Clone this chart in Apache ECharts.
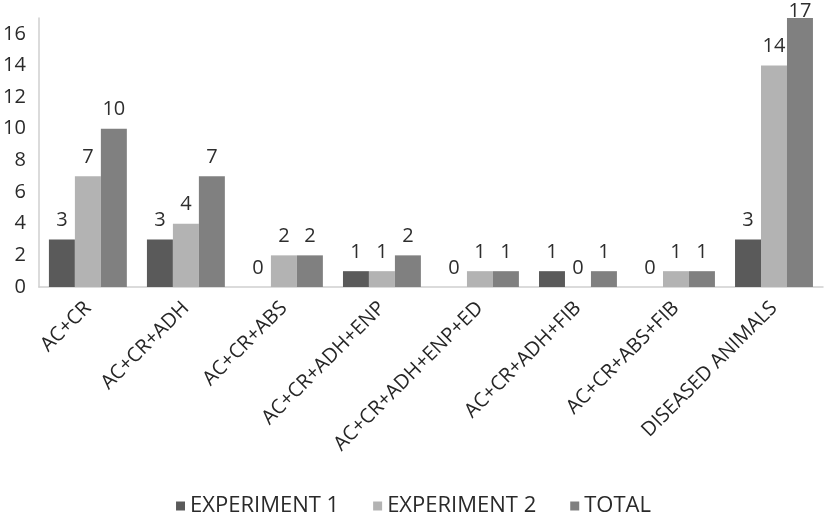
<!DOCTYPE html>
<html><head><meta charset="utf-8">
<script src="https://cdn.jsdelivr.net/npm/echarts@6/dist/echarts.min.js"></script>
<style>html,body{margin:0;padding:0;background:#fff}#c{width:827px;height:515px}</style>
</head><body><div id="c"></div>
<script>
const categories = ['AC+CR','AC+CR+ADH','AC+CR+ABS','AC+CR+ADH+ENP','AC+CR+ADH+ENP+ED','AC+CR+ADH+FIB','AC+CR+ABS+FIB','DISEASED ANIMALS'];
const experiment1 = [3,3,0,1,0,1,0,3];
const experiment2 = [7,4,2,1,1,0,1,14];
const total = [10,7,2,2,1,1,1,17];
const seriesNames = ['EXPERIMENT 1','EXPERIMENT 2','TOTAL'];
const colors = ['#5a5a5a','#b3b3b3','#808080'];
const font = 'Open Sans';
const yMax = 17;
const chart = echarts.init(document.getElementById('c'));
const mk = (name, data, color) => ({
  name, type: 'bar', barGap: '0%', barCategoryGap: '20.5%',
  data: data.map(v => v >= yMax ? { value: v, label: { distance: -3 } } : v),
  itemStyle: { color, borderWidth: 0 },
  label: { show: true, position: 'top', distance: 9, color: '#2e2e2e', fontSize: 20, fontFamily: font }
});
chart.setOption({
  animation: false,
  color: colors,
  grid: { left: 37, right: 4, top: 18, bottom: 228 },
  legend: {
    top: 490, left: 'center', itemWidth: 9, itemHeight: 9, itemGap: 34,
    icon: 'rect',
    textStyle: { color: '#2a2a2a', fontSize: 22, fontFamily: font }
  },
  xAxis: {
    type: 'category', data: categories,
    axisLine: { lineStyle: { color: '#cfcfcf', width: 1.5 } },
    axisTick: { show: false },
    axisLabel: { rotate: 45, interval: 0, color: '#262626', fontSize: 20, fontFamily: font, margin: 18 }
  },
  yAxis: {
    type: 'value', min: 0, max: yMax, interval: 2,
    axisLine: { show: true, lineStyle: { color: '#cfcfcf', width: 1.5 } },
    axisTick: { show: false },
    splitLine: { show: false },
    axisLabel: { showMaxLabel: false, color: '#2a2a2a', fontSize: 20, fontFamily: font, margin: 13 }
  },
  series: [mk(seriesNames[0], experiment1, colors[0]), mk(seriesNames[1], experiment2, colors[1]), mk(seriesNames[2], total, colors[2])]
});
</script></body></html>
